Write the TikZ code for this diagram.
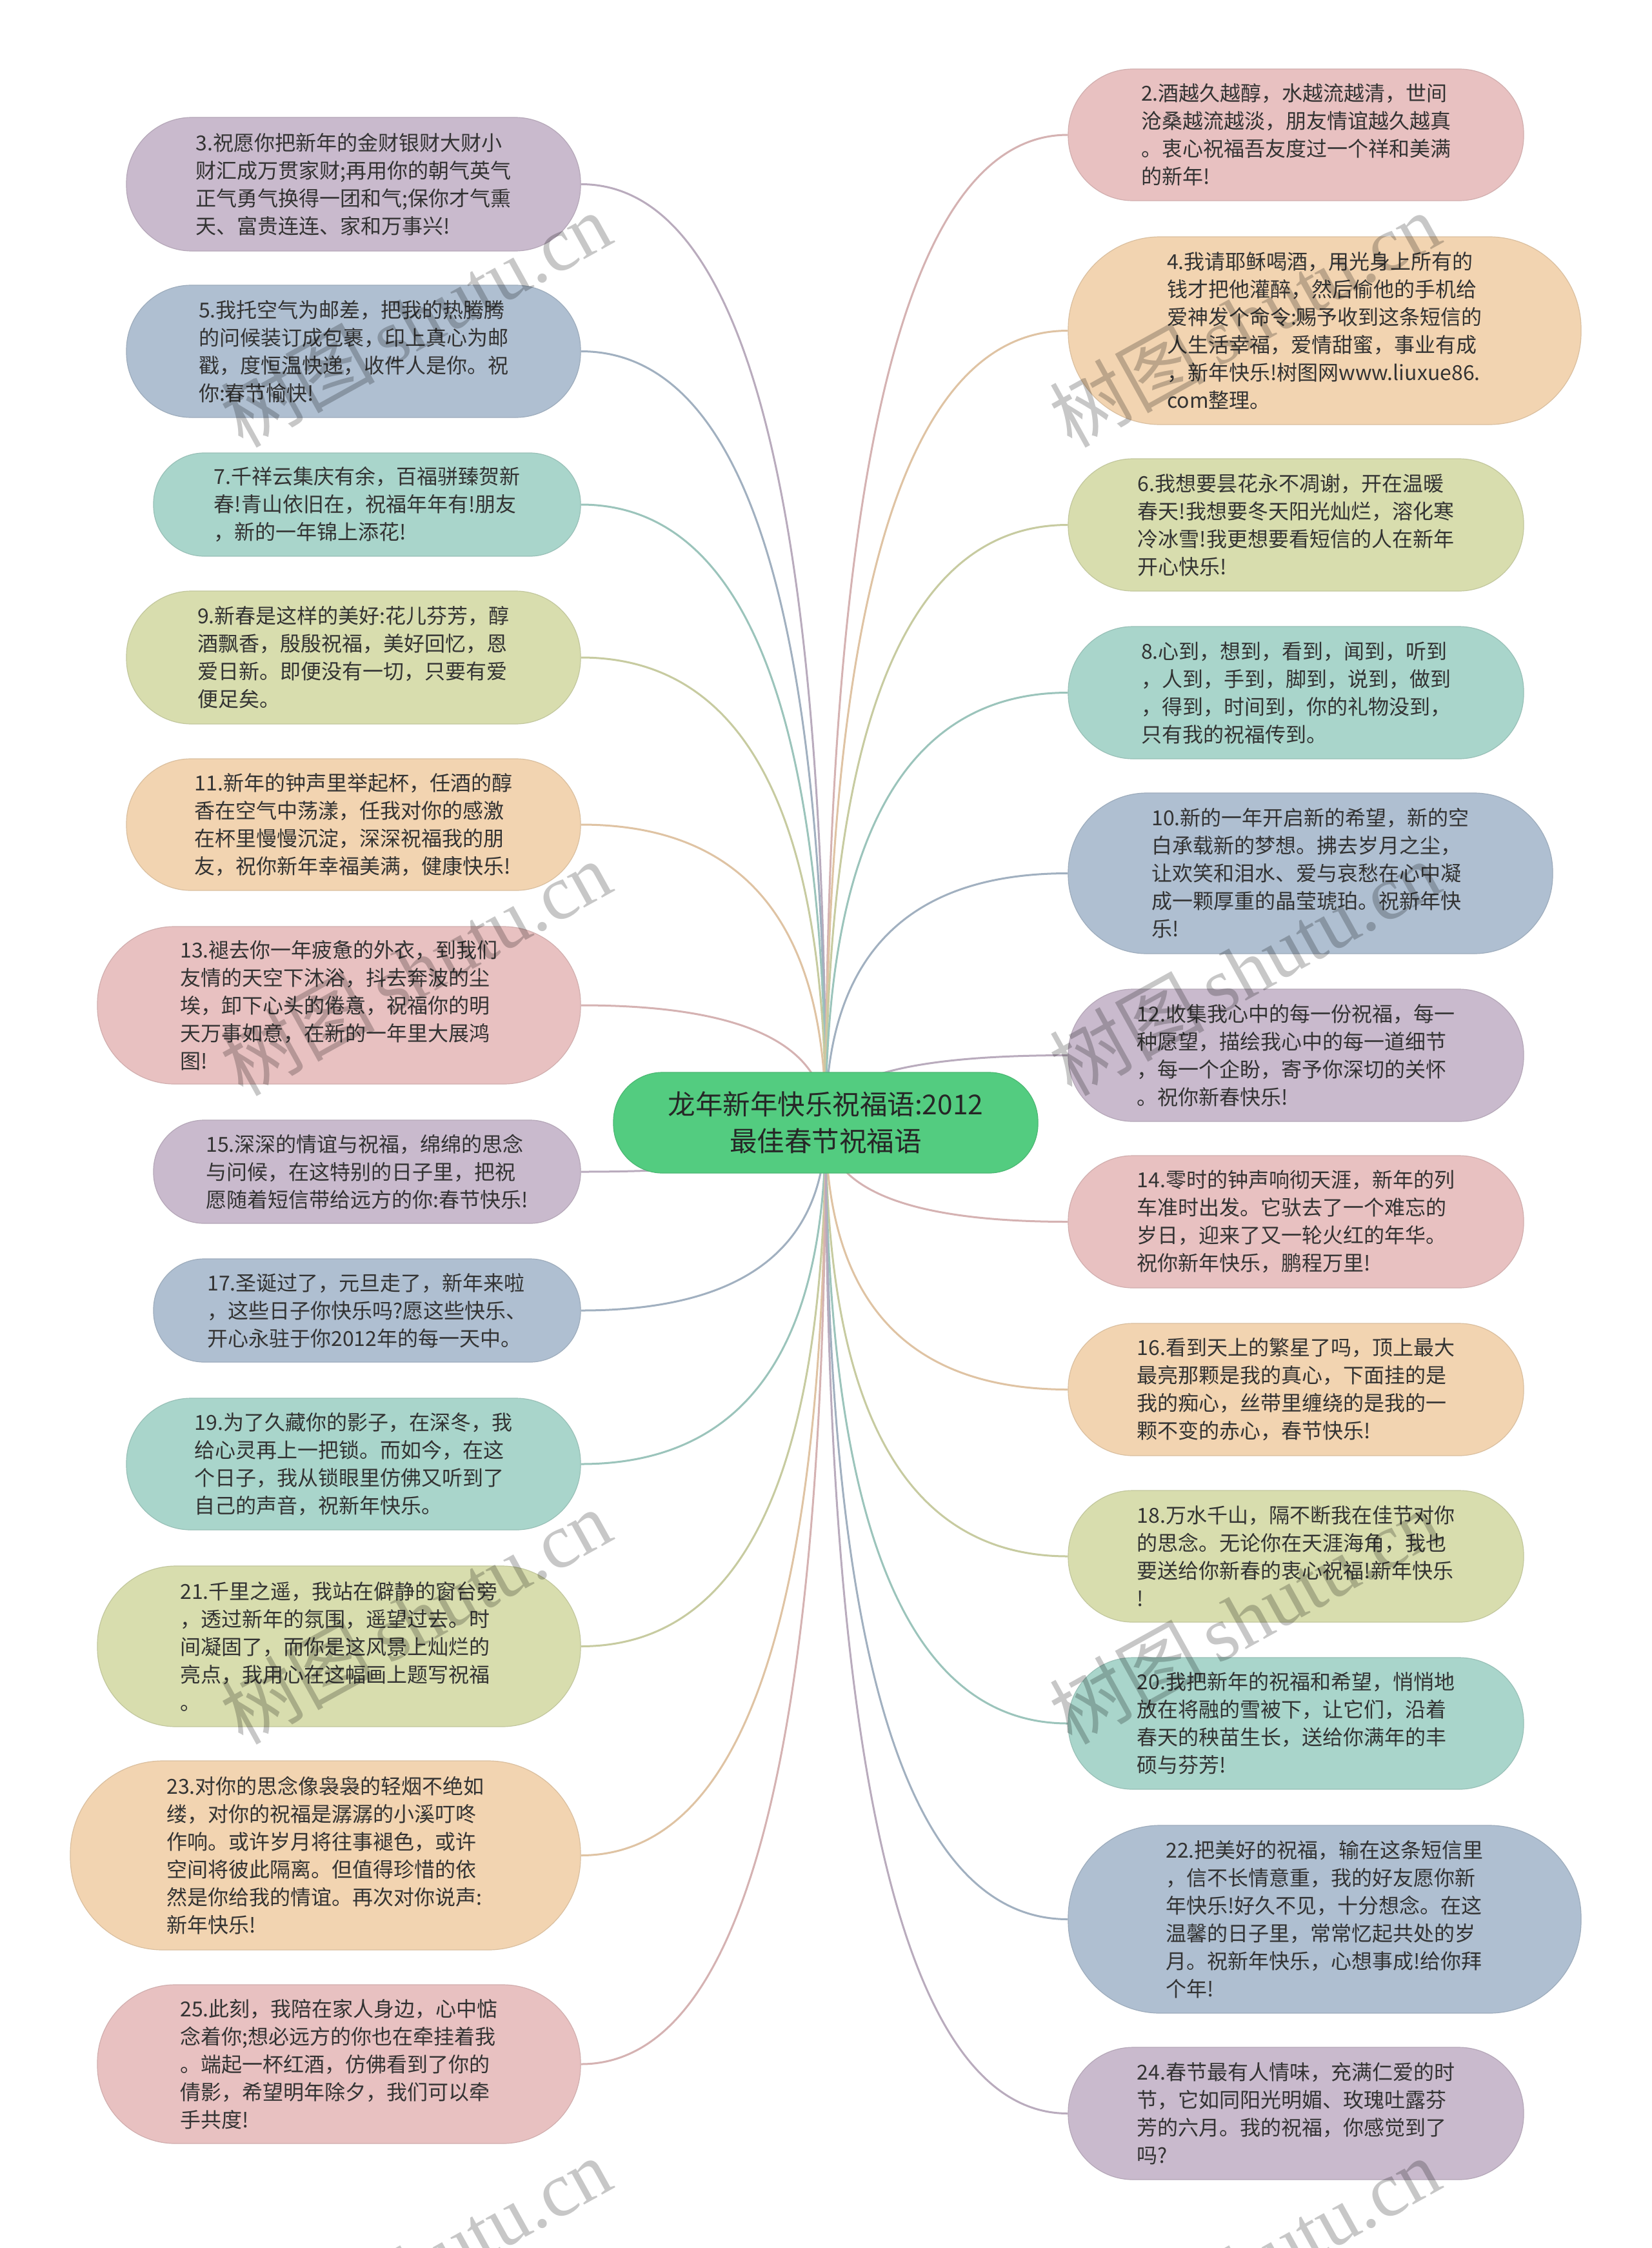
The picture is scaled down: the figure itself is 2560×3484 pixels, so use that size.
\documentclass[tikz,border=0pt]{standalone}
\usepackage{fontspec}
\newfontfamily\cjk{Noto Sans CJK SC}
\newfontfamily\wmserif{Liberation Serif}
\usetikzlibrary{calc,backgrounds}
\definecolor{pinkc}{RGB}{232,193,193}
\definecolor{purplec}{RGB}{201,186,205}
\definecolor{peachc}{RGB}{242,212,177}
\definecolor{bluec}{RGB}{175,191,209}
\definecolor{ygc}{RGB}{216,221,174}
\definecolor{tealc}{RGB}{169,213,203}
\definecolor{rootc}{RGB}{83,204,128}
\definecolor{txtc}{RGB}{51,51,51}
\newcommand\leaf[7]{\node[leafbox, fill=#6, draw=#6!90!black, minimum width=#4pt, minimum height=#5pt, rounded corners=#5pt*0.49] (#1) at (#2,#3) {#7};}
\newcommand\conn[3]{\draw[link, draw=#3!92!black] (root.center) .. controls ($(root.center)!0.6667!(root.center |- #1.#2)$) and ($(#1.#2)!0.6667!(root.center |- #1.#2)$) .. (#1.#2);}
\begin{document}
\begin{tikzpicture}[x=1pt,y=-1pt,
  leafbox/.style={rectangle, inner sep=0pt, align=left, text=txtc, line width=1.2pt, font=\cjk\fontsize{32}{43}\selectfont},
  rootbox/.style={rectangle, inner sep=0pt, align=center, text=black!85, fill=rootc, draw=rootc!90!black, line width=1.2pt, font=\cjk\fontsize{42.5}{57}\selectfont},
  link/.style={line width=3pt},
  wm/.style={text=black, text opacity=0.22, font=\fontsize{120}{120}\selectfont, rotate=29}]
\useasboundingbox (0,0) rectangle (2560,3484);
\begin{pgfonlayer}{background}
\fill[white] (0,0) rectangle (2560,3484);
\end{pgfonlayer}
% root
\node[rootbox, minimum width=658pt, minimum height=156pt, rounded corners=76pt] (root) at (1280,1740) {龙年新年快乐祝福语:2012\\最佳春节祝福语};
% left
\leaf{n3}{548}{285.5}{704}{207}{purplec}{3.祝愿你把新年的金财银财大财小\\财汇成万贯家财;再用你的朝气英气\\正气勇气换得一团和气;保你才气熏\\天、富贵连连、家和万事兴!}
\leaf{n5}{548}{544.5}{704}{205}{bluec}{5.我托空气为邮差，把我的热腾腾\\的问候装订成包裹，印上真心为邮\\戳，度恒温快递，收件人是你。祝\\你:春节愉快!}
\leaf{n7}{569}{782}{662}{160}{tealc}{7.千祥云集庆有余，百福骈臻贺新\\春!青山依旧在，祝福年年有!朋友\\，新的一年锦上添花!}
\leaf{n9}{548}{1019}{704}{206}{ygc}{9.新春是这样的美好:花儿芬芳，醇\\酒飘香，殷殷祝福，美好回忆，恩\\爱日新。即便没有一切，只要有爱\\便足矣。}
\leaf{n11}{548}{1278}{704}{204}{peachc}{11.新年的钟声里举起杯，任酒的醇\\香在空气中荡漾，任我对你的感激\\在杯里慢慢沉淀，深深祝福我的朋\\友，祝你新年幸福美满，健康快乐!}
\leaf{n13}{525.5}{1558}{749}{244}{pinkc}{13.褪去你一年疲惫的外衣，到我们\\友情的天空下沐浴，抖去奔波的尘\\埃，卸下心头的倦意，祝福你的明\\天万事如意，在新的一年里大展鸿\\图!}
\leaf{n15}{569}{1816}{662}{160}{purplec}{15.深深的情谊与祝福，绵绵的思念\\与问候，在这特别的日子里，把祝\\愿随着短信带给远方的你:春节快乐!}
\leaf{n17}{569}{2031}{662}{160}{bluec}{17.圣诞过了，元旦走了，新年来啦\\，这些日子你快乐吗?愿这些快乐、\\开心永驻于你2012年的每一天中。}
\leaf{n19}{548}{2269}{704}{204}{tealc}{19.为了久藏你的影子，在深冬，我\\给心灵再上一把锁。而如今，在这\\个日子，我从锁眼里仿佛又听到了\\自己的声音，祝新年快乐。}
\leaf{n21}{525.5}{2551.5}{749}{249}{ygc}{21.千里之遥，我站在僻静的窗台旁\\，透过新年的氛围，遥望过去。时\\间凝固了，而你是这风景上灿烂的\\亮点，我用心在这幅画上题写祝福\\。}
\leaf{n23}{504.5}{2875.5}{791}{293}{peachc}{23.对你的思念像袅袅的轻烟不绝如\\缕，对你的祝福是潺潺的小溪叮咚\\作响。或许岁月将往事褪色，或许\\空间将彼此隔离。但值得珍惜的依\\然是你给我的情谊。再次对你说声:\\新年快乐!}
\leaf{n25}{525.5}{3199}{749}{246}{pinkc}{25.此刻，我陪在家人身边，心中惦\\念着你;想必远方的你也在牵挂着我\\。端起一杯红酒，仿佛看到了你的\\倩影，希望明年除夕，我们可以牵\\手共度!}
% right
\leaf{n2}{2009}{209}{706}{204}{pinkc}{2.酒越久越醇，水越流越清，世间\\沧桑越流越淡，朋友情谊越久越真\\。衷心祝福吾友度过一个祥和美满\\的新年!}
\leaf{n4}{2053.5}{512.5}{795}{291}{peachc}{4.我请耶稣喝酒，用光身上所有的\\钱才把他灌醉，然后偷他的手机给\\爱神发个命令:赐予收到这条短信的\\人生活幸福，爱情甜蜜，事业有成\\，新年快乐!树图网www.liuxue86.\\com整理。}
\leaf{n6}{2009}{813.5}{706}{205}{ygc}{6.我想要昙花永不凋谢，开在温暖\\春天!我想要冬天阳光灿烂，溶化寒\\冷冰雪!我更想要看短信的人在新年\\开心快乐!}
\leaf{n8}{2009}{1073.5}{706}{205}{tealc}{8.心到，想到，看到，闻到，听到\\，人到，手到，脚到，说到，做到\\，得到，时间到，你的礼物没到，\\只有我的祝福传到。}
\leaf{n10}{2031.5}{1353.5}{751}{249}{bluec}{10.新的一年开启新的希望，新的空\\白承载新的梦想。拂去岁月之尘，\\让欢笑和泪水、爱与哀愁在心中凝\\成一颗厚重的晶莹琥珀。祝新年快\\乐!}
\leaf{n12}{2009}{1635.5}{706}{205}{purplec}{12.收集我心中的每一份祝福，每一\\种愿望，描绘我心中的每一道细节\\，每一个企盼，寄予你深切的关怀\\。祝你新春快乐!}
\leaf{n14}{2009}{1893.5}{706}{205}{pinkc}{14.零时的钟声响彻天涯，新年的列\\车准时出发。它驮去了一个难忘的\\岁日，迎来了又一轮火红的年华。\\祝你新年快乐，鹏程万里!}
\leaf{n16}{2009}{2153.5}{706}{205}{peachc}{16.看到天上的繁星了吗，顶上最大\\最亮那颗是我的真心，下面挂的是\\我的痴心，丝带里缠绕的是我的一\\颗不变的赤心，春节快乐!}
\leaf{n18}{2009}{2412}{706}{204}{ygc}{18.万水千山，隔不断我在佳节对你\\的思念。无论你在天涯海角，我也\\要送给你新春的衷心祝福!新年快乐\\!}
\leaf{n20}{2009}{2671}{706}{204}{tealc}{20.我把新年的祝福和希望，悄悄地\\放在将融的雪被下，让它们，沿着\\春天的秧苗生长，送给你满年的丰\\硕与芬芳!}
\leaf{n22}{2053.5}{2974.5}{795}{291}{bluec}{22.把美好的祝福，输在这条短信里\\，信不长情意重，我的好友愿你新\\年快乐!好久不见，十分想念。在这\\温馨的日子里，常常忆起共处的岁\\月。祝新年快乐，心想事成!给你拜\\个年!}
\leaf{n24}{2009}{3275.5}{706}{205}{purplec}{24.春节最有人情味，充满仁爱的时\\节，它如同阳光明媚、玫瑰吐露芬\\芳的六月。我的祝福，你感觉到了\\吗?}
% connectors
\begin{pgfonlayer}{background}
\conn{n3}{east}{purplec}
\conn{n5}{east}{bluec}
\conn{n7}{east}{tealc}
\conn{n9}{east}{ygc}
\conn{n11}{east}{peachc}
\conn{n13}{east}{pinkc}
\conn{n15}{east}{purplec}
\conn{n17}{east}{bluec}
\conn{n19}{east}{tealc}
\conn{n21}{east}{ygc}
\conn{n23}{east}{peachc}
\conn{n25}{east}{pinkc}
\conn{n2}{west}{pinkc}
\conn{n4}{west}{peachc}
\conn{n6}{west}{ygc}
\conn{n8}{west}{tealc}
\conn{n10}{west}{bluec}
\conn{n12}{west}{purplec}
\conn{n14}{west}{pinkc}
\conn{n16}{west}{peachc}
\conn{n18}{west}{ygc}
\conn{n20}{west}{tealc}
\conn{n22}{west}{bluec}
\conn{n24}{west}{purplec}
\end{pgfonlayer}
% watermarks
\foreach \wy [count=\i] in {495,1500,2505,3510}{
  \node[wm] (wl\i) at (644,\wy) {{\cjk 树图}{\wmserif\,shutu.cn}};
  \node[wm] (wr\i) at (1929,\wy) {{\cjk 树图}{\wmserif\,shutu.cn}};
}
\end{tikzpicture}
\end{document}
